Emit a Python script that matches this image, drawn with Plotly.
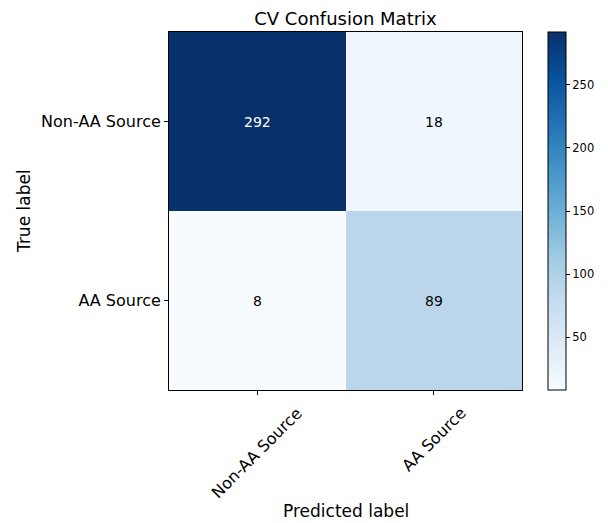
import plotly.graph_objects as go

classes = ["Non-AA Source", "AA Source"]
matrix = [[292, 18], [8, 89]]
cbar_ticks = [50, 100, 150, 200, 250]

blues = ["#f7fbff", "#deebf7", "#c6dbef", "#9ecae1", "#6baed6",
         "#4292c6", "#2171b5", "#08519c", "#08306b"]
scale = [[i / (len(blues) - 1), c] for i, c in enumerate(blues)]

zmin = min(min(r) for r in matrix)
zmax = max(max(r) for r in matrix)
thresh = zmax / 2

# page has an 8px body margin, so the figure is 8px smaller
W, H = 600, 515
L, R, T, B = 161, 86, 24, 133
pw, ph = W - L - R, H - T - B

fig = go.Figure(go.Heatmap(
    z=matrix, x=classes, y=classes,
    colorscale=scale, zmin=zmin, zmax=zmax,
    xgap=0, ygap=0,
    colorbar=dict(
        x=(540 - L) / pw, xanchor="left", xref="paper",
        y=0, yanchor="bottom", len=1, lenmode="fraction",
        thickness=18, thicknessmode="pixels", xpad=0, ypad=0,
        outlinecolor="black", outlinewidth=1,
        tickvals=cbar_ticks, ticks="outside", ticklen=4,
        tickcolor="black",
        tickfont=dict(family="DejaVu Sans", size=11.5, color="black"),
    ),
    hoverinfo="skip",
))

for i, row in enumerate(matrix):
    for j, v in enumerate(row):
        fig.add_annotation(
            x=classes[j], y=classes[i], text=str(v), showarrow=False,
            font=dict(family="DejaVu Sans", size=14,
                      color="white" if v > thresh else "black"),
        )

# rotated x tick labels, centred under their ticks (matplotlib style)
for c in classes:
    fig.add_annotation(
        x=c, xref="x", yref="paper", y=-11 / ph,
        text=c, textangle=-45, showarrow=False,
        xanchor="center", yanchor="top",
        font=dict(family="DejaVu Sans", size=16, color="black"),
    )

fig.add_annotation(xref="paper", yref="paper", x=-(L - 16) / pw, y=0.5,
                   text="True label", textangle=-90, showarrow=False,
                   xanchor="center", yanchor="middle",
                   font=dict(family="DejaVu Sans", size=17, color="black"))
fig.add_annotation(xref="paper", yref="paper", x=0.5, y=-(503 - (H - B)) / ph,
                   text="Predicted label", showarrow=False,
                   xanchor="center", yanchor="middle",
                   font=dict(family="DejaVu Sans", size=17, color="black"))

fig.update_layout(
    width=W, height=H,
    margin=dict(l=L, r=R, t=T, b=B, autoexpand=False),
    paper_bgcolor="white", plot_bgcolor="white",
    title=dict(text="CV Confusion Matrix", x=(L + W - R) / 2 / W,
               xanchor="center", y=1 - 10.5 / H, yanchor="middle",
               font=dict(family="DejaVu Sans", size=18, color="black")),
    font=dict(family="DejaVu Sans", color="black"),
)
fig.update_xaxes(
    automargin=False, showticklabels=False,
    ticks="outside", ticklen=4, tickcolor="black",
    showline=True, linecolor="black", linewidth=1, mirror=True,
    showgrid=False, zeroline=False,
)
fig.update_yaxes(
    automargin=False,
    autorange="reversed", tickfont=dict(size=16),
    ticks="outside", ticklen=4, tickcolor="black",
    showline=True, linecolor="black", linewidth=1, mirror=True,
    showgrid=False, zeroline=False,
)

fig.write_html("out.html")
